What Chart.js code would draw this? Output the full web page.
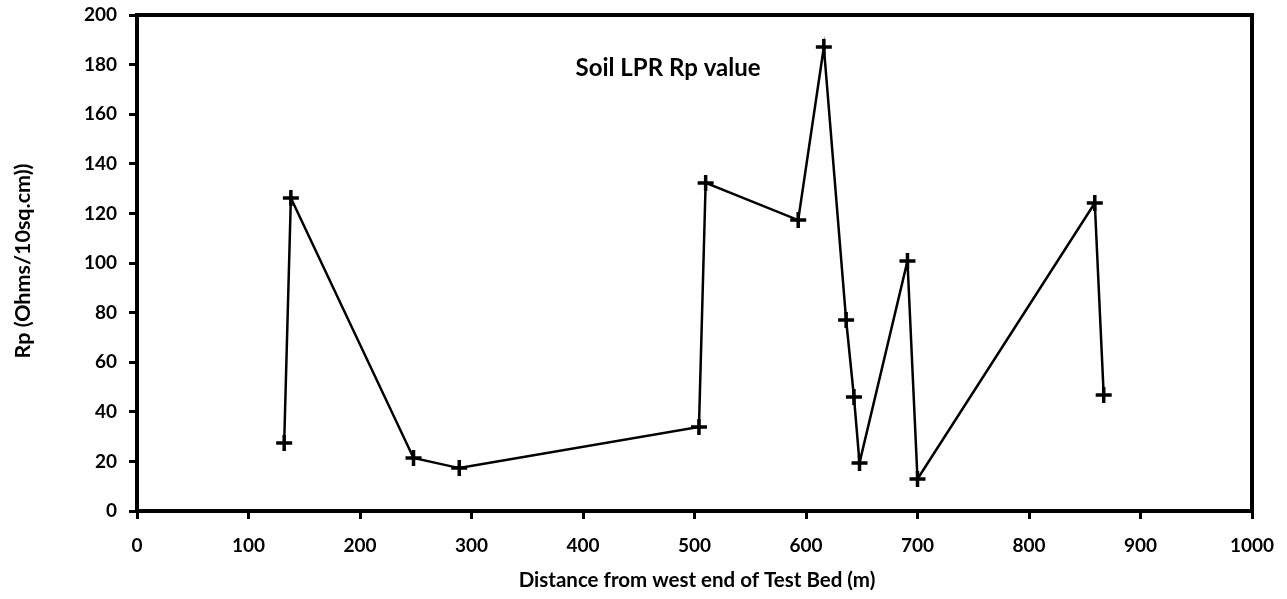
<!DOCTYPE html>
<html>
<head>
<meta charset="utf-8">
<script src="https://cdn.jsdelivr.net/npm/chart.js@4"></script>
<style>
  body { margin: 0; background: #fff; }
  #wrap { width: 1287px; height: 599px; }
</style>
</head>
<body>
<div id="wrap"><canvas id="rpChart"></canvas></div>
<script>
// distance from west end (m) and soil LPR Rp readings
const distances = [132, 138, 248, 289, 504, 510, 593, 616, 636, 643, 648, 691, 700, 859, 867];
const rpValues = [27.4, 126.2, 21.4, 17.3, 33.9, 132.3, 117.3, 187.1, 77, 46, 19.4, 100.8, 12.9, 124.2, 46.8];

const xTicks = { min: 0, max: 1000, step: 100 };
const yTicks = { min: 0, max: 200, step: 20 };

const chartTitle = "Soil LPR Rp value";
const xTitle = "Distance from west end of Test Bed (m)";
const yTitle = "Rp (Ohms/10sq.cm))";

const points = distances.map((d, i) => ({ x: d, y: rpValues[i] }));
const font = "Lato, 'Open Sans', sans-serif";

// box around the plot + in-chart title + axis titles
const frame = {
    id: "frame",
    afterDraw(chart) {
        const { ctx, chartArea: a } = chart;
        ctx.save();
        ctx.strokeStyle = "#000";
        ctx.lineWidth = 4;
        ctx.strokeRect(a.left, a.top, a.right - a.left, a.bottom - a.top);

        ctx.fillStyle = "#000";
        ctx.font = "bold 24px " + font;
        ctx.textAlign = "center";
        ctx.textBaseline = "middle";
        ctx.fillText(chartTitle, 668, 68);

        ctx.font = "bold 20.5px " + font;
        ctx.fillText(xTitle, 697, 580);

        ctx.font = "bold 21.5px " + font;
        ctx.translate(23, 261);
        ctx.rotate(-Math.PI / 2);
        ctx.fillText(yTitle, 0, 0);
        ctx.restore();
    }
};

new Chart(document.getElementById("rpChart"), {
    type: "scatter",
    data: {
        datasets: [{
            data: points,
            showLine: true,
            borderColor: "#000",
            borderWidth: 2.5,
            pointStyle: "cross",
            pointRadius: 8,
            pointBorderWidth: 3.5,
            pointBorderColor: "#000",
            pointBackgroundColor: "#000",
        }],
    },
    plugins: [frame],
    options: {
        responsive: true,
        maintainAspectRatio: false,
        animation: false,
        layout: { padding: { top: 15, right: 35, left: 0, bottom: 0 } },
        plugins: { legend: { display: false }, tooltip: { enabled: false } },
        scales: {
            x: {
                type: "linear",
                min: xTicks.min,
                max: xTicks.max,
                afterFit: (s) => { s.height = 88; s.paddingLeft = 0; s.paddingRight = 0; },
                ticks: {
                    stepSize: xTicks.step,
                    color: "#000",
                    font: { family: font, size: 19, weight: "bold" },
                    padding: 15,
                    maxRotation: 0,
                    callback: (v) => String(v),
                },
                grid: { drawOnChartArea: false, drawTicks: true, tickLength: 8, lineWidth: 3, color: "#000" },
                border: { display: true, color: "#000", width: 4 },
            },
            y: {
                min: yTicks.min,
                max: yTicks.max,
                afterFit: (s) => { s.width = 137; s.paddingTop = 0; s.paddingBottom = 0; },
                ticks: {
                    stepSize: yTicks.step,
                    color: "#000",
                    font: { family: font, size: 19, weight: "bold" },
                    padding: 12,
                },
                grid: { drawOnChartArea: false, drawTicks: true, tickLength: 8, lineWidth: 3, color: "#000" },
                border: { display: true, color: "#000", width: 4 },
            },
        },
    },
});
</script>
</body>
</html>
